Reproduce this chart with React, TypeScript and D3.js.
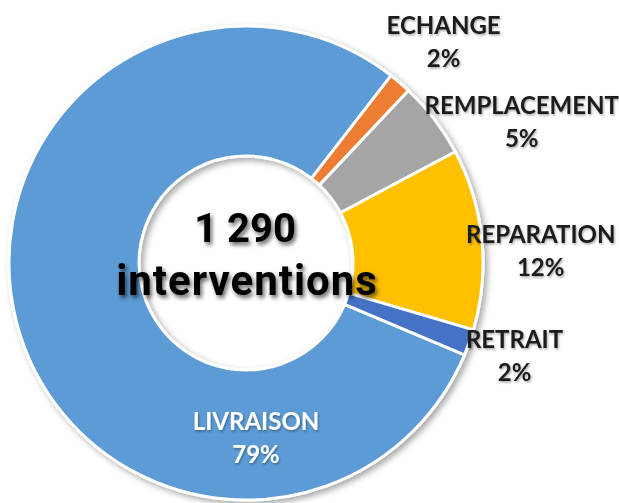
import * as d3 from "d3";

const categories = ["LIVRAISON", "ECHANGE", "REMPLACEMENT", "REPARATION", "RETRAIT"];
const counts = [1021, 20, 67, 159, 23];
const colors = ["#5B9BD5", "#ED7D31", "#A5A5A5", "#FFC000", "#4472C4"];

// label placement (polar, degrees clockwise from 12 o'clock / distance from centre)
const labelPlacement: Record<string, { angle: number; radius: number; inside?: boolean }> = {
  LIVRAISON: { angle: 176.7, radius: 174, inside: true },
  ECHANGE: { angle: 41.7, radius: 297 },
  REMPLACEMENT: { angle: 62.8, radius: 310 },
  REPARATION: { angle: 87.5, radius: 295 },
  RETRAIT: { angle: 109, radius: 284 },
};

const width = 619;
const height = 503;
const cx = 246;
const cy = 263;
const outerR = 237;
const innerR = 107;
const startDeg = 112.8;

type Slice = { name: string; value: number; color: string };

export default function App() {
  const data: Slice[] = categories.map((name, i) => ({
    name,
    value: counts[i],
    color: colors[i],
  }));
  const total = d3.sum(counts);

  const start = (startDeg * Math.PI) / 180;
  const pie = d3
    .pie<Slice>()
    .value((d) => d.value)
    .sort(null)
    .startAngle(start)
    .endAngle(start + 2 * Math.PI);

  const arc = d3.arc<d3.PieArcDatum<Slice>>().innerRadius(innerR).outerRadius(outerR);
  const arcs = pie(data);

  const fmtTotal = (v: number) => d3.format(",")(v).replace(/,/g, " ");
  const pct = (v: number) => `${Math.round((v / total) * 100)}%`;

  const font = "Lato, 'Open Sans', sans-serif";

  return (
    <svg
      width={width}
      height={height}
      viewBox={`0 0 ${width} ${height}`}
      style={{ position: "absolute", left: 0, top: 0, background: "#fff" }}
    >
      <defs>
        <filter id="ringShadow" x="-20%" y="-20%" width="140%" height="140%">
          <feDropShadow dx="3" dy="3" stdDeviation="3" floodColor="#000" floodOpacity="0.35" />
        </filter>
        <filter id="centerShadow" x="-20%" y="-40%" width="140%" height="180%">
          <feGaussianBlur in="SourceGraphic" stdDeviation="0.7" result="soft" />
          <feDropShadow in="soft" dx="2" dy="3" stdDeviation="2" floodColor="#000" floodOpacity="0.6" />
        </filter>
        <filter id="labelShadow" x="-20%" y="-40%" width="140%" height="180%">
          <feDropShadow dx="1" dy="1.5" stdDeviation="1.2" floodColor="#000" floodOpacity="0.35" />
        </filter>
      </defs>

      <g transform={`translate(${cx},${cy})`}>
        <g filter="url(#ringShadow)">
          {arcs.map((d) => (
            <path
              key={d.data.name}
              d={arc(d) ?? ""}
              fill={d.data.color}
              stroke="#fff"
              strokeWidth={3}
              strokeLinejoin="round"
            />
          ))}
        </g>

        <g
          filter="url(#centerShadow)"
          fontFamily="Roboto, 'DejaVu Sans', sans-serif"
          fontWeight={700}
          fill="#000"
          textAnchor="middle"
        >
          <text x={-1} y={-35} fontSize={40} letterSpacing={0} dominantBaseline="central">
            {fmtTotal(total)}
          </text>
          <text x={1} y={17} fontSize={42} letterSpacing={1} dominantBaseline="central">
            interventions
          </text>
        </g>

        {arcs.map((d) => {
          const p = labelPlacement[d.data.name];
          const a = (p.angle * Math.PI) / 180;
          const x = Math.sin(a) * p.radius;
          const y = -Math.cos(a) * p.radius;
          return (
            <g
              key={`lbl-${d.data.name}`}
              fontFamily={font}
              fontWeight={700}
              fontSize={24}
              textAnchor="middle"
              fill={p.inside ? "#fff" : "#1a1a1a"}
              filter="url(#labelShadow)"
            >
              <text x={x} y={y - 16.5} dominantBaseline="central">
                {d.data.name}
              </text>
              <text x={x} y={y + 16.5} dominantBaseline="central">
                {pct(d.data.value)}
              </text>
            </g>
          );
        })}
      </g>
    </svg>
  );
}
